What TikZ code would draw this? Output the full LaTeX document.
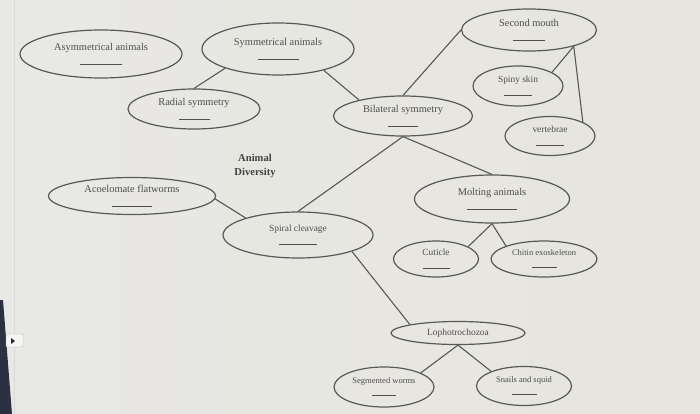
\documentclass[tikz,border=0pt]{standalone}
\usepackage{fontspec}
\setmainfont{Liberation Serif}
\usetikzlibrary{shapes.geometric}
\definecolor{bgl}{HTML}{E8E8E5}
\definecolor{bgr}{HTML}{E6E5DD}
\definecolor{ink}{HTML}{585858}
\definecolor{txt}{HTML}{4E4E4E}
\definecolor{edge}{HTML}{2B3142}
\tikzset{
  oval/.style={ellipse, draw=ink, line width=1.2pt, inner sep=0pt, align=center, text=txt},
  big/.style={font=\fontsize{10.4}{11}\selectfont},
  mid/.style={font=\fontsize{9.4}{10}\selectfont},
  small/.style={font=\fontsize{8.5}{9}\selectfont},
  link/.style={draw=ink, line width=1.1pt},
  titletext/.style={font=\fontsize{10.6}{14}\selectfont\bfseries, text=txt!85!black, align=center, inner sep=0pt}
}
\newcommand{\blankline}[1]{\\[3pt]{\color{txt}\rule{#1pt}{0.6pt}}}
\begin{document}
\begin{tikzpicture}[x=1pt,y=-1pt]
  \useasboundingbox (0,0) rectangle (700,414);
  \shade[left color=bgl, right color=bgr] (0,0) rectangle (700,414);
  % screen edge artefacts
  \fill[edge] (0,300) -- (3,300) -- (12,414) -- (0,414) -- cycle;
  \draw[gray!30, line width=0.5pt] (14,0) -- (14,414);
  \draw[gray!60, fill=white!92!gray, rounded corners=1pt] (6,334) rectangle (23,347);
  \fill[black!85] (11,338) -- (11,344) -- (15,341) -- cycle;

  % nodes
  \node[oval,big,minimum width=162pt,minimum height=48pt] (asym) at (101,54) {Asymmetrical animals\blankline{42}};
  \node[oval,big,minimum width=152pt,minimum height=52pt] (sym) at (278,49) {Symmetrical animals\blankline{41}};
  \node[oval,big,minimum width=132pt,minimum height=40pt] (rad) at (194,109) {Radial symmetry\blankline{31}};
  \node[oval,big,minimum width=139pt,minimum height=40pt] (bil) at (403,116) {Bilateral symmetry\blankline{30}};
  \node[oval,big,minimum width=135pt,minimum height=42pt] (mouth) at (529,30) {Second mouth\blankline{32}};
  \node[oval,mid,minimum width=90pt,minimum height=40pt] (spiny) at (518,86) {Spiny skin\blankline{28}};
  \node[oval,mid,minimum width=90pt,minimum height=39pt] (vert) at (550,136) {vertebrae\blankline{28}};
  \node[oval,big,minimum width=167pt,minimum height=37pt] (acoel) at (132,196) {Acoelomate flatworms\blankline{40}};
  \node[oval,mid,minimum width=150pt,minimum height=46pt] (spiral) at (298,235) {Spiral cleavage\blankline{38}};
  \node[oval,big,minimum width=155pt,minimum height=48pt] (molt) at (492,199) {Molting animals\blankline{50}};
  \node[oval,mid,minimum width=85pt,minimum height=36pt] (cut) at (436,259) {Cuticle\blankline{27}};
  \node[oval,small,minimum width=106pt,minimum height=36pt] (chitin) at (544,259) {Chitin exoskeleton\blankline{25}};
  \node[oval,mid,minimum width=134pt,minimum height=23pt] (lopho) at (458,333) {Lophotrochozoa};
  \node[oval,small,minimum width=100pt,minimum height=40pt] (seg) at (384,387) {Segmented worms\blankline{24}};
  \node[oval,small,minimum width=95pt,minimum height=39pt] (snail) at (524,386) {Snails and squid\blankline{25}};
  \node[titletext] (title) at (255,166) {Animal\\Diversity};

  % connectors
  \draw[link] (sym.200) -- (rad.90);
  \draw[link] (sym.335) -- (bil.160);
  \draw[link] (bil.90) -- (mouth.180);
  \draw[link] (mouth.340) -- (spiny.22);
  \draw[link] (mouth.340) -- (vert.23);
  \draw[link] (bil.270) -- (spiral.90);
  \draw[link] (bil.270) -- (molt.90);
  \draw[link] (acoel.358) -- (spiral.162);
  \draw[link] (spiral.343) -- (lopho.170);
  \draw[link] (molt.270) -- (cut.21);
  \draw[link] (molt.270) -- (chitin.161);
  \draw[link] (lopho.270) -- (seg.21);
  \draw[link] (lopho.270) -- (snail.156);
\end{tikzpicture}
\end{document}
